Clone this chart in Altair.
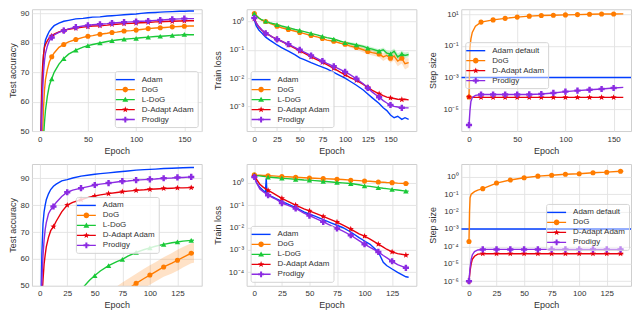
import math
import altair as alt
import pandas as pd

FONT = "Liberation Sans"
TXT = "#333333"
GRID = "#e2e2e2"
BORDER = "#cfcfcf"
W, H = 170, 122

# ---------------- data ----------------
SERIES_MAIN = ["Adam", "DoG", "L-DoG", "D-Adapt Adam", "Prodigy"]
SERIES_STEP = ["Adam default", "DoG", "D-Adapt Adam", "Prodigy"]

# top-left: test accuracy (160 epochs)
EP1 = [0, 1, 2, 3, 4, 5, 6, 8, 10, 12.5, 15, 20, 25, 30, 37.5, 45, 50, 55, 62.5, 70, 75, 80,
       87.5, 95, 100, 105, 112.5, 120, 125, 130, 137.5, 145, 150, 155, 160]
ACC1_ADAM = [10, 42, 60, 70, 76, 79, 81, 82.6, 84, 85, 85.9, 86.8, 87.4, 87.7, 88.2, 88.4, 88.6, 88.8,
             88.9, 89.2, 89.3, 89.4, 89.6, 89.8, 89.9, 90.1, 90.3, 90.4, 90.5, 90.6, 90.7, 90.8, 90.8, 90.9, 90.9]
ACC1_DOG = [10, 30, 40, 49, 58, 64, 67.5, 71, 73.5, 75.3, 76.6, 78.5, 79.5, 80.4, 81.2, 81.9, 82.3, 82.5,
            83.0, 83.3, 83.6, 83.7, 84.1, 84.2, 84.4, 84.6, 84.9, 85.1, 85.2, 85.3, 85.5, 85.6, 85.7, 85.8, 85.8]
ACC1_LDOG = [10, 25, 32, 40, 48, 53, 57, 62, 65.5, 67.8, 70, 72.8, 74.7, 76.2, 77.6, 78.6, 79.1, 79.5,
             80.0, 80.5, 80.8, 81.0, 81.3, 81.5, 81.6, 81.8, 82.0, 82.2, 82.3, 82.4, 82.6, 82.7, 82.9, 82.8, 82.8]
ACC1_DADAPT = [10, 43, 62, 72, 76, 78.5, 79.5, 80.8, 81.8, 82.4, 83, 83.8, 84.3, 84.7, 85.1, 85.4, 85.6, 85.8,
               85.9, 86.1, 86.3, 86.4, 86.6, 86.7, 86.8, 86.9, 87.0, 87.2, 87.2, 87.3, 87.4, 87.5, 87.5, 87.6, 87.6]
ACC1_PRODIGY = [10, 38, 52, 63, 70, 74, 76.5, 79, 80.8, 81.9, 82.8, 83.6, 84.2, 84.8, 85.4, 85.8, 86.0, 86.2,
                86.4, 86.6, 86.8, 86.9, 87.1, 87.2, 87.3, 87.4, 87.5, 87.7, 87.8, 87.9, 88.1, 88.2, 88.3, 88.3, 88.3]

# top-middle: train loss (170 epochs)
EP2 = [0, 2, 5, 8, 12.5, 17, 20, 25, 30, 37.5, 45, 50, 55, 62.5, 70, 75, 80, 87.5, 95, 100, 105, 112.5,
       120, 125, 130, 137.5, 142, 146, 150, 154, 158, 162.5, 166, 170]
LOSS2_ADAM = [1.15, 0.71, 0.5, 0.4, 0.28, 0.22, 0.19, 0.148, 0.12, 0.089, 0.066, 0.052, 0.045, 0.035, 0.028,
              0.0245, 0.021, 0.016, 0.012, 0.01, 0.0079, 0.0056, 0.0038, 0.00275, 0.002, 0.00126, 0.00089,
              0.00071, 0.0005, 0.0004, 0.00045, 0.00035, 0.0004, 0.00035]
LOSS2_DOG = [1.9, 1.66, 1.32, 1.12, 1.0, 0.85, 0.79, 0.68, 0.6, 0.52, 0.45, 0.41, 0.37, 0.32, 0.28, 0.25,
             0.22, 0.2, 0.17, 0.158, 0.138, 0.12, 0.1, 0.087, 0.079, 0.071, 0.056, 0.063, 0.05, 0.06, 0.04,
             0.05, 0.032, 0.035]
LOSS2_LDOG = [1.9, 1.58, 1.32, 1.15, 1.02, 0.91, 0.85, 0.78, 0.69, 0.6, 0.52, 0.48, 0.44, 0.38, 0.33, 0.295,
              0.27, 0.24, 0.2, 0.18, 0.166, 0.148, 0.132, 0.115, 0.105, 0.089, 0.1, 0.076, 0.071, 0.089,
              0.056, 0.071, 0.063, 0.068]
LOSS2_DADAPT = [1.26, 0.89, 0.63, 0.5, 0.38, 0.32, 0.28, 0.24, 0.2, 0.15, 0.112, 0.089, 0.076, 0.056, 0.043,
                0.036, 0.03, 0.022, 0.0158, 0.0132, 0.0107, 0.0083, 0.006, 0.0047, 0.0037, 0.0028, 0.0024,
                0.00214, 0.002, 0.0019, 0.0018, 0.00174, 0.00178, 0.0017]
LOSS2_PRODIGY = [1.32, 0.89, 0.66, 0.52, 0.38, 0.32, 0.28, 0.234, 0.2, 0.158, 0.12, 0.1, 0.083, 0.063, 0.048,
                 0.04, 0.033, 0.026, 0.02, 0.0166, 0.0135, 0.0095, 0.0063, 0.0045, 0.0032, 0.0021, 0.0016,
                 0.00132, 0.00112, 0.001, 0.00095, 0.00089, 0.00089, 0.00089]
BAND2_EP = [100, 112.5, 125, 137.5, 142, 146, 150, 154, 158, 162.5, 166, 170]
BAND2_DOG_LO = [0.135, 0.1, 0.07, 0.055, 0.04, 0.048, 0.035, 0.042, 0.026, 0.033, 0.02, 0.024]
BAND2_DOG_HI = [0.185, 0.145, 0.11, 0.092, 0.075, 0.085, 0.07, 0.085, 0.06, 0.075, 0.05, 0.05]
BAND2_LDOG_LO = [0.16, 0.13, 0.1, 0.075, 0.085, 0.062, 0.058, 0.07, 0.045, 0.058, 0.05, 0.055]
BAND2_LDOG_HI = [0.2, 0.17, 0.135, 0.105, 0.12, 0.095, 0.09, 0.11, 0.075, 0.09, 0.08, 0.085]

# top-right: step size (160 epochs)
EP3 = [0, 1, 2, 3.4, 6.7, 12.5, 25, 37.5, 50, 62.5, 75, 87.5, 100, 112.5, 125, 137.5, 150, 160]
STEP3_DOG = [6e-5, 0.072, 0.28, 0.71, 1.76, 3.2, 4.4, 5.5, 6.6, 7.6, 8.3, 8.7, 9.1, 9.5, 10.0, 10.4, 10.4, 10.5]
STEP3_DADAPT = [6e-5, 5.5e-5, 5.6e-5, 5.6e-5, 5.6e-5, 5.6e-5, 5.6e-5, 5.6e-5, 5.6e-5, 5.6e-5, 5.6e-5,
                5.6e-5, 5.6e-5, 5.6e-5, 5.6e-5, 5.6e-5, 5.6e-5, 5.6e-5]
STEP3_PRODIGY = [1e-6, 8e-6, 3.1e-5, 5.5e-5, 7.5e-5, 8.5e-5, 8.5e-5, 8.5e-5, 8.5e-5, 8.6e-5, 9.2e-5,
                 1.07e-4, 1.3e-4, 1.5e-4, 1.7e-4, 1.9e-4, 2.2e-4, 2.4e-4]
ADAM_DEFAULT_LR = 1e-3

# bottom-left: test accuracy (140 epochs)
EP4 = [0, 1, 2, 3, 4, 5, 6, 8, 10, 12.5, 15, 20, 25, 30, 37.5, 45, 50, 55, 62.5, 70, 75, 80, 87.5, 95,
       100, 105, 112.5, 120, 125, 130, 137.5, 140]
ACC4_ADAM = [10, 40, 62, 73, 77.5, 80, 82, 84.2, 85.8, 87, 87.8, 89, 89.5, 90.1, 90.8, 91.2, 91.5, 91.7,
             92, 92.3, 92.5, 92.7, 93, 93.2, 93.3, 93.4, 93.6, 93.7, 93.8, 93.9, 94, 94]
ACC4_DOG = [10, 10, 10.2, 10.5, 11, 11.5, 12, 13, 14, 15.5, 17, 20, 23, 26.5, 31, 35.5, 38.5, 40.5,
            43.5, 46.2, 47.5, 48.8, 50.9, 52.8, 54, 55.2, 57, 58.4, 59.5, 60.6, 62.1, 62.3]
ACC4_LDOG = [10, 11, 12, 13.5, 15, 17, 19, 22, 26, 30, 33, 37, 41, 44, 48.5, 52, 53.8, 55.5,
             57.5, 59, 59.8, 61, 62.4, 63.5, 64.1, 64.7, 65.4, 66, 66.3, 66.6, 66.9, 67]
ACC4_DADAPT = [10, 25, 45, 52, 58, 61.5, 64.5, 68, 70.5, 72, 74, 77.5, 80, 81, 82, 83, 83.4, 83.8,
               84.3, 84.7, 85, 85.2, 85.5, 85.7, 85.9, 86, 86.2, 86.3, 86.4, 86.4, 86.5, 86.5]
ACC4_PRODIGY = [10, 35, 52, 61, 67, 71, 73.5, 76.8, 78.3, 79.5, 81, 83.2, 84.8, 85.6, 86.3, 87.0, 87.5,
                87.8, 88.2, 88.6, 88.9, 89.0, 89.3, 89.5, 89.6, 89.7, 90.0, 90.1, 90.3, 90.3, 90.5, 90.5]
BAND4_EP = [62.5, 70, 75, 80, 87.5, 95, 100, 105, 112.5, 120, 125, 130, 137.5, 140]
BAND4_DOG_LO = [40, 42.6, 43.8, 45, 47.2, 49.2, 50.4, 51.6, 53.4, 54.6, 55.6, 56.8, 58.4, 58.6]
BAND4_DOG_HI = [47, 49.8, 51.2, 52.5, 54.5, 56.4, 57.6, 58.8, 60.6, 62.2, 63.4, 64.4, 65.8, 66]

# bottom-middle: train loss (140 epochs)
EP5 = [0, 2, 5, 8, 10, 10.8, 11.5, 12.5, 17, 20, 25, 30, 37.5, 45, 50, 55, 62.5, 70, 75, 80, 87.5, 95,
       100, 105, 112.5, 117, 120, 125, 130, 137.5, 140]
LOSS5_ADAM = [2.0, 1.0, 0.62, 0.45, 0.355, 1.58, 0.32, 0.275, 0.224, 0.19, 0.145, 0.112, 0.076, 0.05, 0.039,
              0.032, 0.0224, 0.0158, 0.0126, 0.01, 0.0063, 0.00355, 0.0025, 0.00178, 0.00081, 0.00028,
              0.0002, 0.00014, 0.0001, 6.3e-5, 6e-5]
LOSS5_DOG = [2.24, 2.19, 2.14, 2.09, 2.09, 2.09, 2.04, 2.04, 2.0, 1.95, 1.86, 1.82, 1.74, 1.66, 1.62, 1.58,
             1.51, 1.45, 1.41, 1.38, 1.29, 1.23, 1.17, 1.15, 1.07, 1.05, 1.02, 1.0, 0.95, 0.91, 0.91]
LOSS5_LDOG = [2.24, 2.09, 2.0, 1.91, 1.86, 1.86, 1.82, 1.78, 1.7, 1.66, 1.58, 1.51, 1.41, 1.32, 1.29, 1.23,
              1.15, 1.07, 1.02, 0.98, 0.91, 0.81, 0.72, 0.68, 0.6, 0.56, 0.54, 0.5, 0.47, 0.42, 0.42]
LOSS5_DADAPT = [2.0, 1.41, 0.85, 0.63, 0.54, 0.5, 0.48, 0.45, 0.34, 0.28, 0.2, 0.15, 0.1, 0.068, 0.055, 0.044,
                0.031, 0.022, 0.0174, 0.0132, 0.0085, 0.0052, 0.0041, 0.003, 0.0018, 0.00132, 0.00107,
                0.00081, 0.00068, 0.00059, 0.00063]
LOSS5_PRODIGY = [1.78, 1.0, 0.52, 0.4, 0.34, 0.316, 0.295, 0.275, 0.21, 0.178, 0.123, 0.1, 0.071, 0.044,
                 0.034, 0.026, 0.0178, 0.0117, 0.0091, 0.0071, 0.0045, 0.0026, 0.0018, 0.0013, 0.00081,
                 0.00056, 0.00045, 0.00031, 0.00022, 0.000158, 0.000158]

# bottom-right: step size (140 epochs)
EP6 = [0, 0.5, 1, 2, 3, 5, 8, 12.5, 25, 37.5, 50, 62.5, 75, 87.5, 100, 112.5, 125, 137.5, 140]
STEP6_DOG = [1.9e-4, 0.01, 0.063, 0.1, 0.112, 0.14, 0.174, 0.21, 0.44, 0.66, 0.89, 1.1, 1.23, 1.4, 1.51,
             1.72, 1.86, 2.1, 2.1]
STEP6_DADAPT = [1e-6, 2e-6, 4e-6, 1e-5, 1.8e-5, 2.7e-5, 3.6e-5, 3.8e-5, 3.8e-5, 3.8e-5, 3.8e-5, 3.8e-5,
                3.8e-5, 3.8e-5, 3.8e-5, 3.8e-5, 3.8e-5, 3.8e-5, 3.8e-5]
STEP6_PRODIGY = [1e-6, 2.5e-6, 6e-6, 1.8e-5, 3.2e-5, 5e-5, 6.2e-5, 6.7e-5, 6.7e-5, 6.7e-5, 6.7e-5, 6.7e-5,
                 6.7e-5, 6.7e-5, 6.7e-5, 6.7e-5, 6.7e-5, 6.7e-5, 6.7e-5]

# ---------------- styles ----------------
COLORS = {"Adam": "#023eff", "Adam default": "#023eff", "DoG": "#ff7c00", "L-DoG": "#1ac938",
          "D-Adapt Adam": "#e8000b", "Prodigy": "#8b2be2"}


def poly(points):
    return "M" + "L".join(f"{x:.3f},{y:.3f}" for x, y in points) + "Z"


def star_points(ro, ri):
    pts = []
    for k in range(10):
        th = -math.pi / 2 + k * math.pi / 5
        r = ro if k % 2 == 0 else ri
        pts.append((r * math.cos(th), r * math.sin(th)))
    return pts


STAR = poly(star_points(1.0, 0.42))
MARKS = {"DoG": ("circle", 26), "L-DoG": ("triangle-up", 30), "D-Adapt Adam": (STAR, 42),
         "Prodigy": ("cross", 38)}

# legend symbols: line segment + marker, in units of half the symbol box
LEG_BOX = 11.0
U = LEG_BOX / 2.0
LHALF, LTHICK, MR = 9.5 / U, 0.7 / U, 2.8 / U
LINE_P = poly([(-LHALF, -LTHICK), (LHALF, -LTHICK), (LHALF, LTHICK), (-LHALF, LTHICK)])
CIRC_P = f"M{-MR:.3f},0A{MR:.3f},{MR:.3f} 0 1,1 {MR:.3f},0A{MR:.3f},{MR:.3f} 0 1,1 {-MR:.3f},0Z"
TRI_P = poly([(0, -MR * 1.05), (MR * 1.05, MR * 0.8), (-MR * 1.05, MR * 0.8)])
STAR_P = poly(star_points(MR * 1.15, MR * 0.48))
a, b = MR * 1.05, MR * 0.36
CROSS_P = poly([(-b, -a), (b, -a), (b, -b), (a, -b), (a, b), (b, b), (b, a), (-b, a), (-b, b), (-a, b),
                (-a, -b), (-b, -b)])
LEG_PATH = {"Adam": LINE_P, "Adam default": LINE_P, "DoG": LINE_P + CIRC_P, "L-DoG": LINE_P + TRI_P,
            "D-Adapt Adam": LINE_P + STAR_P, "Prodigy": LINE_P + CROSS_P}

LEGEND_BASE = dict(title=None, labelFont=FONT, labelFontSize=8, labelColor=TXT, symbolSize=LEG_BOX ** 2,
                   symbolStrokeWidth=0, symbolOpacity=1, symbolOffset=2, labelOffset=11, rowPadding=0,
                   padding=3, strokeColor="#d4d4d4", cornerRadius=2, labelLimit=300)
FILL_MAIN = "rgba(255,255,255,0.8)"
FILL_STEP = "rgba(255,255,255,0.45)"

SUP = {"-": "\u207b", "0": "\u2070", "1": "\u00b9", "2": "\u00b2", "3": "\u00b3", "4": "\u2074",
       "5": "\u2075", "6": "\u2076", "7": "\u2077", "8": "\u2078", "9": "\u2079"}
LOG_LABEL = ":".join(
    f"round(log(datum.value)/LN10)=={k}?'10{''.join(SUP[c] for c in str(k))}'" for k in range(-8, 3)
) + ":datum.label"


def x_axis(vals):
    return alt.Axis(values=vals, title="Epoch", format="d", labelPadding=4, titlePadding=2,
                    minExtent=13, maxExtent=13, labelFlush=False, labelOverlap=False)


def y_axis(vals, title, log, ext, tpad):
    kw = dict(values=vals, title=title, labelPadding=3, titlePadding=tpad, minExtent=ext, maxExtent=ext,
              labelOverlap=False)
    if log:
        kw["labelExpr"] = LOG_LABEL
    return alt.Axis(**kw)


def panel(epochs, curves, order, xdom, xvals, ydom, yvals, ytitle, log, leg, ext, tpad,
          bands=(), hline=None):
    rows = []
    for name, vals in curves:
        for e, v in zip(epochs, vals):
            rows.append({"epoch": e, "series": name, "value": v})
    df = pd.DataFrame(rows)
    legend = alt.Legend(**LEGEND_BASE, **leg)
    color = alt.Color("series:N", scale=alt.Scale(domain=order, range=[COLORS[s] for s in order]),
                      legend=legend)
    xs = alt.Scale(domain=xdom, nice=False, zero=False)
    ys = alt.Scale(type="log" if log else "linear", domain=ydom, nice=False, zero=False)
    xa = x_axis(xvals)
    ya = y_axis(yvals, ytitle, log, ext, tpad)
    x = alt.X("epoch:Q", scale=xs, axis=xa)
    y = alt.Y("value:Q", scale=ys, axis=ya)

    layers = [
        alt.Chart(pd.DataFrame({"series": order})).mark_point(filled=True, opacity=0).encode(
            color=color,
            shape=alt.Shape("series:N", scale=alt.Scale(domain=order, range=[LEG_PATH[s] for s in order]),
                            legend=legend),
        )
    ]
    for name, bep, lo, hi in bands:
        bdf = pd.DataFrame({"epoch": bep, "lo": lo, "hi": hi, "series": [name] * len(bep)})
        layers.append(
            alt.Chart(bdf).mark_area(opacity=0.22, clip=True).encode(
                x=x, y=alt.Y("lo:Q", scale=ys, axis=ya), y2="hi:Q", color=color)
        )
    if hline is not None:
        layers.append(
            alt.Chart(pd.DataFrame({"series": ["Adam default"], "value": [hline]}))
            .mark_rule(strokeWidth=1.5, clip=True).encode(y=y, color=color)
        )
    layers.append(alt.Chart(df).mark_line(strokeWidth=1.4, clip=True).encode(x=x, y=y, color=color))
    for s in order:
        if s in MARKS and s in df["series"].values:
            shp, size = MARKS[s]
            layers.append(
                alt.Chart(df).transform_filter(
                    (alt.datum.series == s) & (alt.datum.epoch % 12.5 == 0)
                ).mark_point(shape=shp, filled=True, size=size, opacity=1, clip=True)
                .encode(x=x, y=y, color=color)
            )
    return alt.layer(*layers).properties(width=W, height=H)


ACC_TICKS = [50, 60, 70, 80, 90]
X160 = [0, 50, 100, 150]
X170 = [0, 25, 50, 75, 100, 125, 150]
X140 = [0, 25, 50, 75, 100, 125]

p1 = panel(EP1, [("Adam", ACC1_ADAM), ("DoG", ACC1_DOG), ("L-DoG", ACC1_LDOG),
                 ("D-Adapt Adam", ACC1_DADAPT), ("Prodigy", ACC1_PRODIGY)],
           SERIES_MAIN, [-8, 168], X160, [50, 91.5], ACC_TICKS, "Test accuracy", False,
           dict(orient="bottom-right", offset=4, fillColor=FILL_MAIN), 12, 2)
p2 = panel(EP2, [("Adam", LOSS2_ADAM), ("DoG", LOSS2_DOG), ("L-DoG", LOSS2_LDOG),
                 ("D-Adapt Adam", LOSS2_DADAPT), ("Prodigy", LOSS2_PRODIGY)],
           SERIES_MAIN, [-8.5, 178.5], X170, [1.35e-4, 2.7], [1, 0.1, 0.01, 0.001], "Train loss", True,
           dict(orient="bottom-left", offset=4, fillColor=FILL_MAIN), 21, 3,
           bands=[("DoG", BAND2_EP, BAND2_DOG_LO, BAND2_DOG_HI),
                  ("L-DoG", BAND2_EP, BAND2_LDOG_LO, BAND2_LDOG_HI)])
p3 = panel(EP3, [("DoG", STEP3_DOG), ("D-Adapt Adam", STEP3_DADAPT), ("Prodigy", STEP3_PRODIGY)],
           SERIES_STEP, [-8, 168], X160, [4.2e-7, 20.7], [10, 0.1, 1e-3, 1e-5], "Step size", True,
           dict(orient="none", legendX=4, legendY=33, fillColor=FILL_STEP), 21, 3, hline=ADAM_DEFAULT_LR)
p4 = panel(EP4, [("Adam", ACC4_ADAM), ("DoG", ACC4_DOG), ("L-DoG", ACC4_LDOG),
                 ("D-Adapt Adam", ACC4_DADAPT), ("Prodigy", ACC4_PRODIGY)],
           SERIES_MAIN, [-7, 147], X140, [50, 95.3], ACC_TICKS, "Test accuracy", False,
           dict(orient="none", legendX=44, legendY=33, fillColor=FILL_MAIN), 12, 2,
           bands=[("DoG", BAND4_EP, BAND4_DOG_LO, BAND4_DOG_HI)])
p5 = panel(EP5, [("Adam", LOSS5_ADAM), ("DoG", LOSS5_DOG), ("L-DoG", LOSS5_LDOG),
                 ("D-Adapt Adam", LOSS5_DADAPT), ("Prodigy", LOSS5_PRODIGY)],
           SERIES_MAIN, [-7, 147], X140, [2.5e-5, 6.8], [1, 0.1, 0.01, 0.001, 1e-4], "Train loss", True,
           dict(orient="bottom-left", offset=4, fillColor=FILL_MAIN), 21, 3)
p6 = panel(EP6, [("DoG", STEP6_DOG), ("D-Adapt Adam", STEP6_DADAPT), ("Prodigy", STEP6_PRODIGY)],
           SERIES_STEP, [-7, 147], X140, [5.4e-7, 5.5], [1, 0.1, 0.01, 1e-3, 1e-4, 1e-5, 1e-6],
           "Step size", True, dict(orient="none", legendX=85, legendY=40, fillColor=FILL_STEP), 21, 3,
           hline=ADAM_DEFAULT_LR)

row1 = alt.hconcat(p1, p2, p3, spacing=10).resolve_scale(color="independent", shape="independent")
row2 = alt.hconcat(p4, p5, p6, spacing=10).resolve_scale(color="independent", shape="independent")

chart = (
    alt.vconcat(row1, row2, spacing=7)
    .resolve_scale(color="independent", shape="independent")
    .properties(padding=0, background="white")
    .configure_view(stroke=BORDER, strokeWidth=1)
    .configure_axis(grid=True, gridColor=GRID, gridWidth=0.9, ticks=False, domain=False,
                    labelFont=FONT, labelFontSize=8, labelColor=TXT, titleFont=FONT, titleFontSize=9,
                    titleColor=TXT, titleFontWeight="normal")
)

chart.save("out.html", embed_options={"renderer": "svg", "actions": False})
